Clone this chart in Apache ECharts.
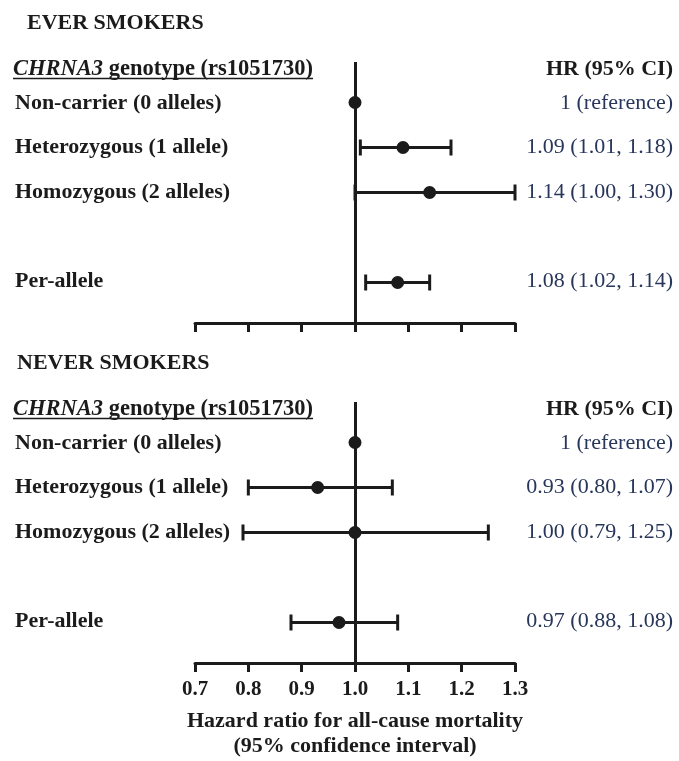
<!DOCTYPE html>
<html>
<head>
<meta charset="utf-8">
<script src="https://cdn.jsdelivr.net/npm/echarts@6/dist/echarts.min.js"></script>
<style>
html,body{margin:0;padding:0;background:#fff;}
#chart{width:679px;height:761px;}
</style>
</head>
<body>
<div id="chart"></div>
<script>
// ---------- data ----------
var rowLabels = ['Non-carrier (0 alleles)', 'Heterozygous (1 allele)', 'Homozygous (2 alleles)', '', 'Per-allele'];
var xTicks = [0.7, 0.8, 0.9, 1.0, 1.1, 1.2, 1.3];

// EVER SMOKERS
var everHR    = [1.00, 1.09, 1.14, null, 1.08];
var everLower = [null, 1.01, 1.00, null, 1.02];
var everUpper = [null, 1.18, 1.30, null, 1.14];
var everText  = ['1 (reference)', '1.09 (1.01, 1.18)', '1.14 (1.00, 1.30)', '', '1.08 (1.02, 1.14)'];

// NEVER SMOKERS
var neverHR    = [1.00, 0.93, 1.00, null, 0.97];
var neverLower = [null, 0.80, 0.79, null, 0.88];
var neverUpper = [null, 1.07, 1.25, null, 1.08];
var neverText  = ['1 (reference)', '0.93 (0.80, 1.07)', '1.00 (0.79, 1.25)', '', '0.97 (0.88, 1.08)'];

var panelTitles = ['EVER SMOKERS', 'NEVER SMOKERS'];
var axisTitle = 'Hazard ratio for all-cause mortality\n(95% confidence interval)';

// ---------- chart ----------
var FONT = "'Liberation Serif', 'Times New Roman', serif";
var INK = '#1b1b1b';
var VAL = '#27365a';
var chart = echarts.init(document.getElementById('chart'));

var PANEL_OFFSET = 340;
var grids = [], xAxes = [], yAxes = [], series = [], graphics = [];

function pointData(hr) {
  var d = [];
  hr.forEach(function (v, i) { if (v != null) d.push([v, i]); });
  return d;
}
function ciData(lo, hi) {
  var d = [];
  lo.forEach(function (v, i) { if (v != null && hi[i] != null) d.push([v, hi[i], i]); });
  return d;
}

[[everHR, everLower, everUpper, everText], [neverHR, neverLower, neverUpper, neverText]].forEach(function (p, k) {
  var off = k * PANEL_OFFSET;
  var isBottom = k === 1;
  // plot grid
  grids.push({ left: 195, width: 320, top: 62 + off, height: 261 });
  // label grid
  grids.push({ left: 195, width: 320, top: 80.75 + off, height: 222.5 });
  var gPlot = 2 * k, gLab = 2 * k + 1;

  xAxes.push({
    gridIndex: gPlot, type: 'value', min: 0.7, max: 1.3, interval: 0.1, position: 'bottom',
    axisLine: { show: true, onZero: false, lineStyle: { color: INK, width: 3 } },
    axisTick: { show: true, length: 9, lineStyle: { color: INK, width: 3 } },
    splitLine: { show: false },
    axisLabel: {
      show: isBottom, margin: 16, color: INK, fontFamily: FONT, fontWeight: 'bold', fontSize: 21,
      formatter: function (v) { return v.toFixed(1); }
    },
    name: isBottom ? axisTitle : '', nameLocation: 'middle', nameGap: 46,
    nameTextStyle: { color: INK, fontFamily: FONT, fontWeight: 'bold', fontSize: 22, lineHeight: 25 }
  });
  xAxes.push({ gridIndex: gLab, type: 'value', min: 0.7, max: 1.3, show: false });

  yAxes.push({ gridIndex: gPlot, type: 'value', inverse: true, min: -0.9, max: 4.9, show: false });
  yAxes.push({
    gridIndex: gLab, type: 'category', inverse: true, data: rowLabels, position: 'left',
    axisLine: { show: false }, axisTick: { show: false },
    axisLabel: { align: 'left', margin: 180, color: INK, fontFamily: FONT, fontWeight: 'bold', fontSize: 22 }
  });
  yAxes.push({
    gridIndex: gLab, type: 'category', inverse: true, data: p[3], position: 'right',
    axisLine: { show: false }, axisTick: { show: false },
    axisLabel: { align: 'right', margin: 158, color: VAL, fontFamily: FONT, fontSize: 22 }
  });
  var yPlotIdx = 3 * k;

  series.push({
    type: 'custom', xAxisIndex: 2 * k, yAxisIndex: yPlotIdx, data: ciData(p[1], p[2]), z: 3,
    renderItem: function (params, api) {
      var a = api.coord([api.value(0), api.value(2)]);
      var b = api.coord([api.value(1), api.value(2)]);
      var h = 8;
      var st = { stroke: INK, lineWidth: 3 };
      return { type: 'group', children: [
        { type: 'line', shape: { x1: a[0], y1: a[1], x2: b[0], y2: b[1] }, style: st },
        { type: 'line', shape: { x1: a[0], y1: a[1] - h, x2: a[0], y2: a[1] + h }, style: st },
        { type: 'line', shape: { x1: b[0], y1: b[1] - h, x2: b[0], y2: b[1] + h }, style: st }
      ]};
    }
  });
  series.push({
    type: 'scatter', xAxisIndex: 2 * k, yAxisIndex: yPlotIdx, data: pointData(p[0]),
    symbol: 'circle', symbolSize: 13, itemStyle: { color: INK, opacity: 1 }, z: 4,
    markLine: {
      silent: true, symbol: 'none', label: { show: false },
      lineStyle: { color: INK, width: 3, type: 'solid' },
      data: [{ xAxis: 1.0 }]
    }
  });

  // headers
  graphics.push({ type: 'text', left: k === 0 ? 27 : 17, top: 12 + off,
    style: { text: panelTitles[k], fill: INK, font: 'bold 22px ' + FONT } });
  graphics.push({ type: 'text', left: 13, top: 57.5 + off,
    style: { text: '{i|CHRNA3} genotype (rs1051730)', fill: INK, font: 'bold 22.5px ' + FONT,
      rich: { i: { fontStyle: 'italic', fontWeight: 'bold', fontSize: 22.5, fontFamily: FONT, fill: INK } } } });
  graphics.push({ type: 'line', shape: { x1: 13, y1: 78.5 + off, x2: 313, y2: 78.5 + off },
    style: { stroke: INK, lineWidth: 1.5 } });
  graphics.push({ type: 'text', right: 6, top: 58 + off,
    style: { text: 'HR (95% CI)', fill: INK, font: 'bold 22px ' + FONT } });
});

chart.setOption({
  backgroundColor: '#fff',
  animation: false,
  grid: grids,
  xAxis: xAxes,
  yAxis: yAxes,
  series: series,
  graphic: graphics
});
</script>
</body>
</html>
